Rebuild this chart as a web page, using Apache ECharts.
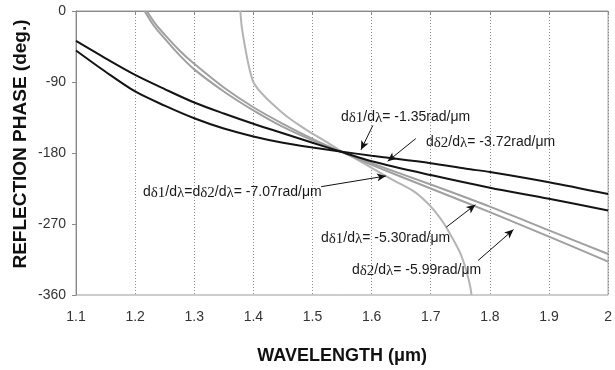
<!DOCTYPE html>
<html>
<head>
<meta charset="utf-8">
<script src="https://cdn.jsdelivr.net/npm/echarts@6/dist/echarts.min.js"></script>
<style>html,body{margin:0;padding:0;background:#fff}#c{width:615px;height:370px}</style>
</head>
<body>
<div id="c"></div>
<script>
// ---- data (wavelength in µm, reflection phase in degrees) ----
const xTicks = ['1.1','1.2','1.3','1.4','1.5','1.6','1.7','1.8','1.9','2'];
const yTicks = [0,-90,-180,-270,-360];

// black curve, dδ1/dλ (flatter after crossing)
const wlB1 = [1.10,1.15,1.20,1.25,1.30,1.35,1.40,1.45,1.50,1.547,1.60,1.70,1.76,1.80,1.90,2.00];
const phB1 = [-50,-77,-102,-120,-136,-149,-159,-167,-173,-178,-183.5,-193,-200,-204,-217,-232];

// black curve, dδ2/dλ
const wlB2 = [1.10,1.15,1.20,1.25,1.30,1.35,1.40,1.45,1.50,1.547,1.60,1.70,1.80,1.90,2.00];
const phB2 = [-38,-60,-81,-99,-116,-130,-143,-155,-167,-178,-190.5,-208,-224,-238,-253];

// gray curve (ends lowest at 2.0, -5.99 rad/µm)
const wlGA = [1.2197,1.235,1.25,1.275,1.30,1.35,1.40,1.45,1.50,1.547,1.60,1.70,1.80,1.90,2.00];
const phGA = [0,-17,-30,-50,-67,-97,-122,-143,-162,-178,-195,-225,-255,-286,-317.6];

// gray curve (-5.30 rad/µm)
const wlGB = [1.216,1.232,1.25,1.275,1.30,1.35,1.40,1.45,1.50,1.547,1.60,1.70,1.80,1.90,2.00];
const phGB = [0,-19,-35,-56,-74,-102,-126,-147,-164,-178,-193,-220,-248,-278,-308];

// steep gray curve (-7.07 rad/µm at crossing)
const wlGC = [1.378,1.380,1.383,1.387,1.393,1.40,1.41,1.42,1.431,1.445,1.459,1.48,1.50,1.525,1.547,1.575,1.60,1.638,1.672,1.694,1.706,1.722,1.739,1.75,1.759,1.764,1.767,1.769];
const phGC = [0,-18,-33,-50,-72,-90,-101,-109,-117,-126.5,-135,-146,-155.5,-166.5,-177,-188,-199,-215,-229,-243,-253,-269,-291,-307,-326,-340,-350,-360];

// annotation arrows: [fromWl, fromPh, toWl, toPh]
const arrows = [
  [1.602,-145.1,1.582,-176.0],
  [1.6747,-161.7,1.6272,-190.5],
  [1.5147,-222.7,1.6243,-209.1],
  [1.7263,-274.0,1.7755,-245.6],
  [1.780,-316.3,1.840,-277.1]
];

const labels = [
  {slope:'-1.35', kind:'1', x:341, y:117},
  {slope:'-3.72', kind:'2', x:426, y:142},
  {slope:'-7.07', kind:'12', x:143, y:192},
  {slope:'-5.30', kind:'1', x:321, y:238},
  {slope:'-5.99', kind:'2', x:352, y:270}
];

function pairs(xs, ys){ return xs.map((x,i)=>[x, ys[i]]); }

const chart = echarts.init(document.getElementById('c'), null, {renderer:'canvas'});

function labelText(l){
  const part = n => '{a|d}{s|δ' + n + '}{a|/d}{s|λ}';
  if (l.kind === '12') return part('1') + '{a|=}' + part('2') + '{a|= ' + l.slope + 'rad/μm}';
  return part(l.kind) + '{a|= ' + l.slope + 'rad/μm}';
}

const rich = {
  a:{fontFamily:'Liberation Sans, Arial', fontSize:14, fill:'#1a1a1a', color:'#1a1a1a'},
  s:{fontFamily:'Liberation Serif, Times New Roman', fontSize:15, fill:'#1a1a1a', color:'#1a1a1a', padding:[3,0,0,0]}
};

const lineBase = {type:'line', showSymbol:false, smooth:0.3, animation:false, z:3};

const option = {
  backgroundColor:'#ffffff',
  animation:false,
  grid:{left:76, right:3, top:11, bottom:68, show:true, borderColor:'#9a9a9a', borderWidth:1},
  xAxis:{
    type:'value', min:1.1, max:2.0, interval:0.1,
    axisLine:{show:true, lineStyle:{color:'#8a8a8a', width:1}},
    axisTick:{show:true, length:4, lineStyle:{color:'#8a8a8a'}},
    axisLabel:{margin:15, color:'#333', fontSize:14, fontFamily:'Liberation Sans, Arial',
      formatter: v => xTicks[Math.round((v-1.1)*10)] },
    splitLine:{show:true, lineStyle:{color:'#8c8c8c', type:[1,2], width:1}},
    name:'WAVELENGTH (μm)', nameLocation:'middle', nameGap:52,
    nameTextStyle:{fontFamily:'Liberation Sans, Arial', fontWeight:'bold', fontSize:18, color:'#111'}
  },
  yAxis:{
    type:'value', min:-360, max:0, interval:90,
    axisLine:{show:true, lineStyle:{color:'#8a8a8a', width:1}},
    axisTick:{show:true, length:4, lineStyle:{color:'#8a8a8a'}},
    axisLabel:{margin:10, color:'#333', fontSize:14, fontFamily:'Liberation Sans, Arial',
      formatter: v => String(yTicks[Math.round(-v/90)]) },
    splitLine:{show:false}
  },
  graphic:[
    {type:'text', x:21, y:144, rotation:Math.PI/2, z:10,
     style:{text:'REFLECTION PHASE (deg.)', font:'bold 19px "Liberation Sans", Arial', fill:'#111', textAlign:'center', textVerticalAlign:'middle'}}
  ].concat(labels.map(l => ({
     type:'text', x:l.x, y:l.y, z:10,
     style:{text:labelText(l), rich:rich, textVerticalAlign:'middle', textAlign:'left', fill:'#1a1a1a',
       font:'14px "Liberation Sans", Arial'}
  }))),
  series:[
    Object.assign({}, lineBase, {name:'gC', data:pairs(wlGC, phGC), lineStyle:{color:'#b4b4b4', width:2}, itemStyle:{color:'#b4b4b4'}}),
    Object.assign({}, lineBase, {name:'gA', data:pairs(wlGA, phGA), lineStyle:{color:'#a0a0a0', width:2}, itemStyle:{color:'#a0a0a0'}}),
    Object.assign({}, lineBase, {name:'gB', data:pairs(wlGB, phGB), lineStyle:{color:'#a0a0a0', width:2}, itemStyle:{color:'#a0a0a0'}}),
    Object.assign({}, lineBase, {name:'b1', data:pairs(wlB1, phB1), lineStyle:{color:'#141414', width:2}, itemStyle:{color:'#141414'}}),
    Object.assign({}, lineBase, {name:'b2', data:pairs(wlB2, phB2), lineStyle:{color:'#141414', width:2}, itemStyle:{color:'#141414'},
      markLine:{
        silent:true, animation:false, symbol:['none','arrow'], symbolSize:[6,9],
        label:{show:false},
        lineStyle:{color:'#111', width:1, type:'solid'},
        data: arrows.map(a => [{coord:[a[0],a[1]]},{coord:[a[2],a[3]]}])
      }})
  ]
};
chart.setOption(option);
</script>
</body>
</html>
